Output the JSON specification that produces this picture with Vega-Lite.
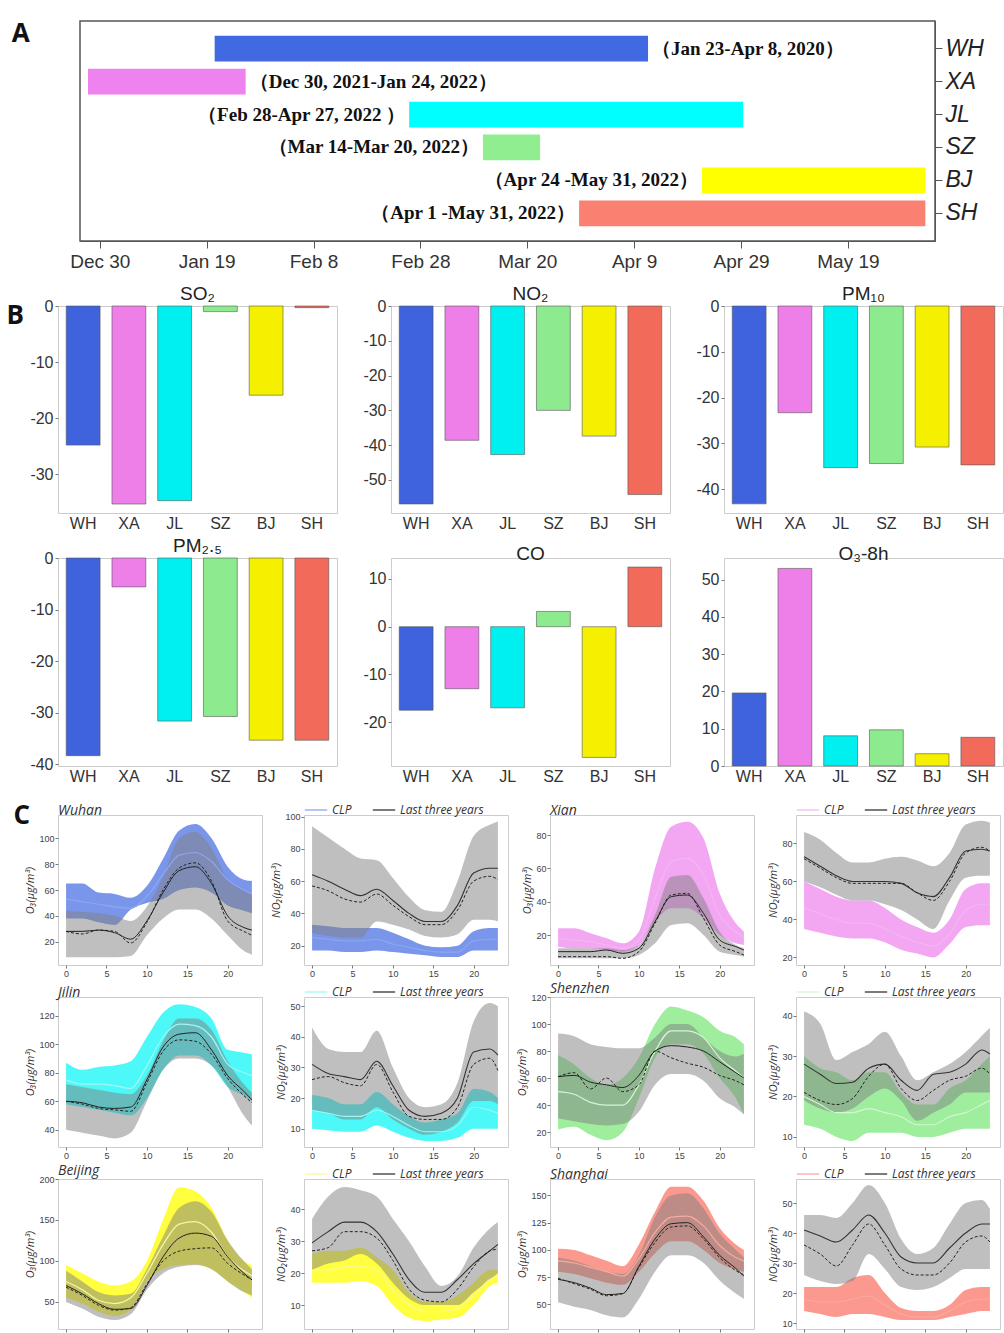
{
"$schema":"https://vega.github.io/schema/vega-lite/v6.json",
"background":"white",
"padding":{"left":6,"top":20,"right":0,"bottom":0},
"datasets":{
"gantt":[
{"city":"WH","start":21.5,"end":102.6,"label":"（Jan 23-Apr 8, 2020）"},
{"city":"XA","start":-2.2,"end":27.3,"label":"（Dec 30, 2021-Jan 24, 2022）"},
{"city":"JL","start":57.9,"end":120.4,"label":"（Feb 28-Apr 27, 2022 ）"},
{"city":"SZ","start":71.7,"end":82.4,"label":"（Mar 14-Mar 20, 2022）"},
{"city":"BJ","start":112.7,"end":154.5,"label":"（Apr 24 -May 31, 2022）"},
{"city":"SH","start":89.7,"end":154.5,"label":"（Apr 1 -May 31, 2022）"}
],
"bars":[
{"p":"SO2","c":"WH","v":-24.8},{"p":"SO2","c":"XA","v":-35.3},{"p":"SO2","c":"JL","v":-34.7},{"p":"SO2","c":"SZ","v":-1.0},{"p":"SO2","c":"BJ","v":-15.9},{"p":"SO2","c":"SH","v":-0.3},
{"p":"NO2","c":"WH","v":-56.9},{"p":"NO2","c":"XA","v":-38.6},{"p":"NO2","c":"JL","v":-42.7},{"p":"NO2","c":"SZ","v":-30.0},{"p":"NO2","c":"BJ","v":-37.4},{"p":"NO2","c":"SH","v":-54.2},
{"p":"PM10","c":"WH","v":-43.2},{"p":"PM10","c":"XA","v":-23.3},{"p":"PM10","c":"JL","v":-35.3},{"p":"PM10","c":"SZ","v":-34.4},{"p":"PM10","c":"BJ","v":-30.8},{"p":"PM10","c":"SH","v":-34.7},
{"p":"PM25","c":"WH","v":-38.3},{"p":"PM25","c":"XA","v":-5.6},{"p":"PM25","c":"JL","v":-31.6},{"p":"PM25","c":"SZ","v":-30.7},{"p":"PM25","c":"BJ","v":-35.3},{"p":"PM25","c":"SH","v":-35.3},
{"p":"CO","c":"WH","v":-17.5},{"p":"CO","c":"XA","v":-13.0},{"p":"CO","c":"JL","v":-17.0},{"p":"CO","c":"SZ","v":3.2},{"p":"CO","c":"BJ","v":-27.4},{"p":"CO","c":"SH","v":12.5},
{"p":"O3","c":"WH","v":19.6},{"p":"O3","c":"XA","v":53.0},{"p":"O3","c":"JL","v":8.1},{"p":"O3","c":"SZ","v":9.7},{"p":"O3","c":"BJ","v":3.3},{"p":"O3","c":"SH","v":7.7}
],
"diurnal":[
{"c":"WH","p":"O3","h":0,"a":38,"b":65,"m":53,"l":8,"u":44,"s":28,"d":28},
{"c":"WH","p":"O3","h":2,"a":38,"b":65,"m":51,"l":8,"u":43,"s":28,"d":26},
{"c":"WH","p":"O3","h":4,"a":35,"b":58,"m":49,"l":8,"u":42,"s":29,"d":29},
{"c":"WH","p":"O3","h":6,"a":33,"b":57,"m":47,"l":8,"u":40,"s":27,"d":28},
{"c":"WH","p":"O3","h":8,"a":45,"b":54,"m":46,"l":9,"u":36,"s":22,"d":19},
{"c":"WH","p":"O3","h":10,"a":50,"b":63,"m":55,"l":25,"u":47,"s":36,"d":35},
{"c":"WH","p":"O3","h":12,"a":53,"b":84,"m":72,"l":38,"u":70,"s":58,"d":60},
{"c":"WH","p":"O3","h":14,"a":60,"b":106,"m":87,"l":45,"u":100,"s":75,"d":77},
{"c":"WH","p":"O3","h":16,"a":62,"b":111,"m":89,"l":45,"u":105,"s":78,"d":81},
{"c":"WH","p":"O3","h":18,"a":58,"b":100,"m":82,"l":38,"u":92,"s":65,"d":67},
{"c":"WH","p":"O3","h":20,"a":48,"b":78,"m":68,"l":25,"u":68,"s":40,"d":36},
{"c":"WH","p":"O3","h":22,"a":44,"b":68,"m":60,"l":13,"u":60,"s":31,"d":28},
{"c":"WH","p":"O3","h":23,"a":42,"b":67,"m":57,"l":10,"u":57,"s":29,"d":25},
{"c":"WH","p":"NO2","h":0,"a":17,"b":33,"m":25,"l":28,"u":94,"s":64,"d":57},
{"c":"WH","p":"NO2","h":2,"a":17,"b":32,"m":24,"l":26,"u":87,"s":60,"d":54},
{"c":"WH","p":"NO2","h":4,"a":16,"b":31,"m":23,"l":25,"u":80,"s":55,"d":49},
{"c":"WH","p":"NO2","h":6,"a":16,"b":31,"m":23,"l":25,"u":74,"s":51,"d":47},
{"c":"WH","p":"NO2","h":8,"a":17,"b":31,"m":24,"l":35,"u":73,"s":55,"d":52},
{"c":"WH","p":"NO2","h":10,"a":16,"b":28,"m":21,"l":33,"u":62,"s":48,"d":45},
{"c":"WH","p":"NO2","h":12,"a":15,"b":24,"m":19,"l":30,"u":50,"s":40,"d":38},
{"c":"WH","p":"NO2","h":14,"a":14,"b":20,"m":17,"l":26,"u":42,"s":35,"d":33},
{"c":"WH","p":"NO2","h":16,"a":13,"b":19,"m":16,"l":25,"u":41,"s":35,"d":33},
{"c":"WH","p":"NO2","h":18,"a":13,"b":20,"m":16,"l":27,"u":60,"s":45,"d":42},
{"c":"WH","p":"NO2","h":20,"a":17,"b":29,"m":23,"l":36,"u":88,"s":65,"d":60},
{"c":"WH","p":"NO2","h":22,"a":17,"b":31,"m":24,"l":36,"u":95,"s":68,"d":63},
{"c":"WH","p":"NO2","h":23,"a":17,"b":31,"m":24,"l":35,"u":97,"s":68,"d":61},
{"c":"XA","p":"O3","h":0,"a":13,"b":24,"m":18,"l":6,"u":12,"s":10,"d":7},
{"c":"XA","p":"O3","h":2,"a":12,"b":24,"m":17,"l":6,"u":12,"s":10,"d":7},
{"c":"XA","p":"O3","h":4,"a":12,"b":21,"m":16,"l":6,"u":12,"s":10,"d":7},
{"c":"XA","p":"O3","h":6,"a":11,"b":18,"m":14,"l":6,"u":12,"s":11,"d":7},
{"c":"XA","p":"O3","h":8,"a":10,"b":15,"m":12,"l":6,"u":11,"s":9,"d":6},
{"c":"XA","p":"O3","h":10,"a":14,"b":22,"m":17,"l":8,"u":14,"s":12,"d":10},
{"c":"XA","p":"O3","h":12,"a":28,"b":60,"m":42,"l":15,"u":32,"s":28,"d":27},
{"c":"XA","p":"O3","h":14,"a":36,"b":85,"m":64,"l":26,"u":55,"s":43,"d":44},
{"c":"XA","p":"O3","h":16,"a":36,"b":88,"m":66,"l":27,"u":56,"s":44,"d":45},
{"c":"XA","p":"O3","h":18,"a":30,"b":78,"m":56,"l":20,"u":42,"s":33,"d":30},
{"c":"XA","p":"O3","h":20,"a":20,"b":45,"m":32,"l":10,"u":22,"s":17,"d":14},
{"c":"XA","p":"O3","h":22,"a":15,"b":27,"m":22,"l":8,"u":14,"s":13,"d":10},
{"c":"XA","p":"O3","h":23,"a":14,"b":22,"m":19,"l":7,"u":12,"s":11,"d":8},
{"c":"XA","p":"NO2","h":0,"a":35,"b":60,"m":46,"l":60,"u":86,"s":73,"d":72},
{"c":"XA","p":"NO2","h":2,"a":33,"b":56,"m":43,"l":57,"u":82,"s":68,"d":67},
{"c":"XA","p":"NO2","h":4,"a":31,"b":52,"m":40,"l":53,"u":75,"s":63,"d":62},
{"c":"XA","p":"NO2","h":6,"a":30,"b":50,"m":38,"l":50,"u":70,"s":60,"d":59},
{"c":"XA","p":"NO2","h":8,"a":30,"b":50,"m":38,"l":50,"u":70,"s":60,"d":59},
{"c":"XA","p":"NO2","h":10,"a":28,"b":46,"m":35,"l":48,"u":72,"s":60,"d":59},
{"c":"XA","p":"NO2","h":12,"a":24,"b":40,"m":31,"l":45,"u":73,"s":59,"d":59},
{"c":"XA","p":"NO2","h":14,"a":22,"b":36,"m":28,"l":40,"u":71,"s":54,"d":54},
{"c":"XA","p":"NO2","h":16,"a":20,"b":33,"m":26,"l":35,"u":68,"s":52,"d":50},
{"c":"XA","p":"NO2","h":18,"a":27,"b":40,"m":32,"l":50,"u":75,"s":62,"d":60},
{"c":"XA","p":"NO2","h":20,"a":36,"b":56,"m":45,"l":62,"u":90,"s":76,"d":75},
{"c":"XA","p":"NO2","h":22,"a":37,"b":59,"m":48,"l":63,"u":92,"s":77,"d":78},
{"c":"XA","p":"NO2","h":23,"a":37,"b":59,"m":48,"l":63,"u":91,"s":76,"d":76},
{"c":"JL","p":"O3","h":0,"a":58,"b":87,"m":75,"l":40,"u":72,"s":60,"d":60},
{"c":"JL","p":"O3","h":2,"a":56,"b":82,"m":72,"l":38,"u":70,"s":59,"d":58},
{"c":"JL","p":"O3","h":4,"a":54,"b":84,"m":72,"l":36,"u":68,"s":56,"d":55},
{"c":"JL","p":"O3","h":6,"a":52,"b":85,"m":71,"l":34,"u":66,"s":55,"d":54},
{"c":"JL","p":"O3","h":8,"a":50,"b":88,"m":69,"l":38,"u":65,"s":56,"d":53},
{"c":"JL","p":"O3","h":10,"a":62,"b":105,"m":85,"l":60,"u":78,"s":75,"d":73},
{"c":"JL","p":"O3","h":12,"a":82,"b":122,"m":105,"l":82,"u":102,"s":98,"d":95},
{"c":"JL","p":"O3","h":14,"a":92,"b":128,"m":114,"l":90,"u":118,"s":107,"d":103},
{"c":"JL","p":"O3","h":16,"a":92,"b":126,"m":113,"l":90,"u":118,"s":108,"d":102},
{"c":"JL","p":"O3","h":18,"a":85,"b":118,"m":105,"l":85,"u":110,"s":96,"d":93},
{"c":"JL","p":"O3","h":20,"a":70,"b":96,"m":86,"l":70,"u":88,"s":78,"d":76},
{"c":"JL","p":"O3","h":22,"a":64,"b":94,"m":80,"l":50,"u":72,"s":67,"d":64},
{"c":"JL","p":"O3","h":23,"a":60,"b":93,"m":78,"l":43,"u":66,"s":61,"d":59},
{"c":"JL","p":"NO2","h":0,"a":10,"b":21,"m":16,"l":16,"u":43,"s":31,"d":26},
{"c":"JL","p":"NO2","h":2,"a":9.5,"b":20,"m":15,"l":15,"u":36,"s":28,"d":27},
{"c":"JL","p":"NO2","h":4,"a":9,"b":18,"m":14,"l":13,"u":35,"s":27,"d":25},
{"c":"JL","p":"NO2","h":6,"a":9,"b":18,"m":14,"l":13,"u":35,"s":26,"d":24},
{"c":"JL","p":"NO2","h":8,"a":11,"b":22,"m":16,"l":17,"u":42,"s":32,"d":31},
{"c":"JL","p":"NO2","h":10,"a":9,"b":18,"m":14,"l":13,"u":30,"s":24,"d":22},
{"c":"JL","p":"NO2","h":12,"a":7,"b":14,"m":11,"l":10,"u":20,"s":16,"d":14},
{"c":"JL","p":"NO2","h":14,"a":6,"b":12,"m":9,"l":8,"u":17,"s":14,"d":13},
{"c":"JL","p":"NO2","h":16,"a":6,"b":13,"m":9,"l":9,"u":18,"s":15,"d":13},
{"c":"JL","p":"NO2","h":18,"a":7,"b":15,"m":11,"l":12,"u":25,"s":20,"d":17},
{"c":"JL","p":"NO2","h":20,"a":10,"b":23,"m":17,"l":19,"u":45,"s":35,"d":31},
{"c":"JL","p":"NO2","h":22,"a":10,"b":22,"m":16,"l":19,"u":51,"s":36,"d":33},
{"c":"JL","p":"NO2","h":23,"a":10,"b":20,"m":15,"l":18,"u":50,"s":34,"d":29},
{"c":"SZ","p":"O3","h":0,"a":22,"b":77,"m":50,"l":30,"u":93,"s":61,"d":61},
{"c":"SZ","p":"O3","h":2,"a":24,"b":70,"m":48,"l":28,"u":91,"s":62,"d":64},
{"c":"SZ","p":"O3","h":4,"a":18,"b":60,"m":42,"l":26,"u":85,"s":57,"d":52},
{"c":"SZ","p":"O3","h":6,"a":14,"b":55,"m":40,"l":25,"u":83,"s":55,"d":60},
{"c":"SZ","p":"O3","h":8,"a":20,"b":60,"m":40,"l":26,"u":82,"s":53,"d":50},
{"c":"SZ","p":"O3","h":10,"a":45,"b":75,"m":55,"l":35,"u":82,"s":62,"d":55},
{"c":"SZ","p":"O3","h":12,"a":75,"b":100,"m":80,"l":55,"u":90,"s":80,"d":80},
{"c":"SZ","p":"O3","h":14,"a":85,"b":113,"m":95,"l":63,"u":100,"s":84,"d":75},
{"c":"SZ","p":"O3","h":16,"a":85,"b":110,"m":95,"l":63,"u":100,"s":83,"d":71},
{"c":"SZ","p":"O3","h":18,"a":78,"b":105,"m":90,"l":58,"u":90,"s":80,"d":68},
{"c":"SZ","p":"O3","h":20,"a":60,"b":95,"m":75,"l":45,"u":80,"s":72,"d":62},
{"c":"SZ","p":"O3","h":22,"a":45,"b":90,"m":65,"l":38,"u":76,"s":64,"d":58},
{"c":"SZ","p":"O3","h":23,"a":33,"b":85,"m":60,"l":33,"u":78,"s":60,"d":55},
{"c":"SZ","p":"NO2","h":0,"a":13,"b":30,"m":20,"l":19,"u":41,"s":28,"d":21},
{"c":"SZ","p":"NO2","h":2,"a":12,"b":27,"m":18,"l":17,"u":38,"s":25.5,"d":19},
{"c":"SZ","p":"NO2","h":4,"a":10,"b":26,"m":16,"l":16,"u":29,"s":23.2,"d":18},
{"c":"SZ","p":"NO2","h":6,"a":9,"b":24,"m":16,"l":17,"u":31,"s":23.5,"d":19.5},
{"c":"SZ","p":"NO2","h":8,"a":11,"b":26,"m":17,"l":20,"u":33,"s":27,"d":25},
{"c":"SZ","p":"NO2","h":10,"a":11,"b":26,"m":16,"l":22,"u":36,"s":28,"d":28},
{"c":"SZ","p":"NO2","h":12,"a":11,"b":21,"m":15,"l":19,"u":30,"s":24,"d":22},
{"c":"SZ","p":"NO2","h":14,"a":10,"b":18,"m":13,"l":14,"u":24,"s":21.5,"d":19},
{"c":"SZ","p":"NO2","h":16,"a":10,"b":18,"m":13,"l":16,"u":26,"s":25.5,"d":21.5},
{"c":"SZ","p":"NO2","h":18,"a":11,"b":22,"m":15,"l":18,"u":28,"s":26,"d":24},
{"c":"SZ","p":"NO2","h":20,"a":12,"b":24,"m":16,"l":21,"u":31,"s":28,"d":25},
{"c":"SZ","p":"NO2","h":22,"a":12,"b":28,"m":18,"l":21,"u":35,"s":31.5,"d":27},
{"c":"SZ","p":"NO2","h":23,"a":12,"b":30,"m":19,"l":21,"u":37,"s":30.5,"d":25.5},
{"c":"BJ","p":"O3","h":0,"a":55,"b":95,"m":75,"l":50,"u":88,"s":70,"d":68},
{"c":"BJ","p":"O3","h":2,"a":48,"b":85,"m":65,"l":42,"u":75,"s":60,"d":58},
{"c":"BJ","p":"O3","h":4,"a":38,"b":75,"m":52,"l":32,"u":62,"s":48,"d":46},
{"c":"BJ","p":"O3","h":6,"a":33,"b":70,"m":48,"l":28,"u":58,"s":41,"d":40},
{"c":"BJ","p":"O3","h":8,"a":40,"b":75,"m":55,"l":35,"u":60,"s":42,"d":43},
{"c":"BJ","p":"O3","h":10,"a":75,"b":100,"m":85,"l":65,"u":90,"s":70,"d":72},
{"c":"BJ","p":"O3","h":12,"a":90,"b":150,"m":120,"l":85,"u":130,"s":105,"d":100},
{"c":"BJ","p":"O3","h":14,"a":95,"b":190,"m":145,"l":93,"u":165,"s":128,"d":112},
{"c":"BJ","p":"O3","h":16,"a":96,"b":185,"m":148,"l":95,"u":173,"s":134,"d":115},
{"c":"BJ","p":"O3","h":18,"a":90,"b":165,"m":135,"l":90,"u":160,"s":130,"d":116},
{"c":"BJ","p":"O3","h":20,"a":75,"b":125,"m":105,"l":75,"u":125,"s":105,"d":97},
{"c":"BJ","p":"O3","h":22,"a":62,"b":100,"m":88,"l":62,"u":100,"s":85,"d":83},
{"c":"BJ","p":"O3","h":23,"a":55,"b":95,"m":82,"l":58,"u":90,"s":77,"d":77},
{"c":"BJ","p":"NO2","h":0,"a":17,"b":26,"m":21,"l":21,"u":37,"s":29.5,"d":27},
{"c":"BJ","p":"NO2","h":2,"a":17,"b":27,"m":21,"l":23,"u":44,"s":33,"d":28},
{"c":"BJ","p":"NO2","h":4,"a":17,"b":27,"m":22,"l":24,"u":47,"s":36,"d":33},
{"c":"BJ","p":"NO2","h":6,"a":17.5,"b":28,"m":22,"l":26,"u":46,"s":36,"d":33},
{"c":"BJ","p":"NO2","h":8,"a":16,"b":25,"m":21,"l":23,"u":44,"s":33,"d":31},
{"c":"BJ","p":"NO2","h":10,"a":10,"b":21,"m":15,"l":17,"u":37,"s":26,"d":24},
{"c":"BJ","p":"NO2","h":12,"a":6,"b":14,"m":10,"l":12,"u":30,"s":18,"d":15},
{"c":"BJ","p":"NO2","h":14,"a":5,"b":11,"m":8,"l":10,"u":22,"s":14,"d":11.5},
{"c":"BJ","p":"NO2","h":16,"a":5.5,"b":11,"m":8,"l":10,"u":16,"s":14,"d":11},
{"c":"BJ","p":"NO2","h":18,"a":6,"b":13,"m":9,"l":10,"u":19,"s":18,"d":15},
{"c":"BJ","p":"NO2","h":20,"a":10,"b":17,"m":13,"l":14,"u":28,"s":23,"d":22},
{"c":"BJ","p":"NO2","h":22,"a":16,"b":21,"m":18,"l":18,"u":34,"s":27,"d":27},
{"c":"BJ","p":"NO2","h":23,"a":17,"b":21,"m":19,"l":20,"u":36,"s":29,"d":27.5},
{"c":"SH","p":"O3","h":0,"a":80,"b":101,"m":90,"l":52,"u":93,"s":73,"d":74},
{"c":"SH","p":"O3","h":2,"a":78,"b":100,"m":88,"l":48,"u":90,"s":70,"d":69},
{"c":"SH","p":"O3","h":4,"a":74,"b":95,"m":84,"l":45,"u":85,"s":65,"d":64},
{"c":"SH","p":"O3","h":6,"a":70,"b":90,"m":80,"l":40,"u":80,"s":59,"d":58},
{"c":"SH","p":"O3","h":8,"a":68,"b":85,"m":76,"l":38,"u":78,"s":60,"d":60},
{"c":"SH","p":"O3","h":10,"a":80,"b":105,"m":92,"l":55,"u":95,"s":85,"d":84},
{"c":"SH","p":"O3","h":12,"a":97,"b":135,"m":116,"l":80,"u":130,"s":110,"d":107},
{"c":"SH","p":"O3","h":14,"a":108,"b":158,"m":130,"l":95,"u":150,"s":124,"d":121},
{"c":"SH","p":"O3","h":16,"a":108,"b":158,"m":131,"l":95,"u":152,"s":125,"d":122},
{"c":"SH","p":"O3","h":18,"a":100,"b":145,"m":122,"l":88,"u":138,"s":112,"d":110},
{"c":"SH","p":"O3","h":20,"a":88,"b":120,"m":104,"l":72,"u":115,"s":95,"d":93},
{"c":"SH","p":"O3","h":22,"a":82,"b":105,"m":93,"l":60,"u":100,"s":83,"d":81},
{"c":"SH","p":"O3","h":23,"a":80,"b":100,"m":90,"l":55,"u":93,"s":76,"d":77},
{"c":"SH","p":"NO2","h":0,"a":14,"b":22,"m":18,"l":26,"u":46,"s":41,"d":36},
{"c":"SH","p":"NO2","h":2,"a":13,"b":22,"m":17,"l":24,"u":46,"s":39,"d":33},
{"c":"SH","p":"NO2","h":4,"a":12,"b":22,"m":17,"l":23,"u":45,"s":37,"d":29},
{"c":"SH","p":"NO2","h":6,"a":13,"b":25,"m":18,"l":24,"u":50,"s":41,"d":36},
{"c":"SH","p":"NO2","h":8,"a":13,"b":26,"m":19,"l":33,"u":56,"s":46,"d":43},
{"c":"SH","p":"NO2","h":10,"a":12,"b":20,"m":16,"l":28,"u":50,"s":40,"d":36},
{"c":"SH","p":"NO2","h":12,"a":11,"b":15,"m":13,"l":22,"u":38,"s":32,"d":28},
{"c":"SH","p":"NO2","h":14,"a":11,"b":14,"m":12,"l":21,"u":33,"s":30,"d":26},
{"c":"SH","p":"NO2","h":16,"a":11,"b":14,"m":12,"l":22,"u":35,"s":30,"d":26},
{"c":"SH","p":"NO2","h":18,"a":12,"b":16,"m":14,"l":25,"u":43,"s":35,"d":30},
{"c":"SH","p":"NO2","h":20,"a":13,"b":21,"m":17,"l":28,"u":50,"s":40,"d":37},
{"c":"SH","p":"NO2","h":22,"a":14,"b":22,"m":18,"l":28,"u":51,"s":43,"d":39},
{"c":"SH","p":"NO2","h":23,"a":14,"b":22,"m":18,"l":28,"u":48,"s":43,"d":37}
]
},
"spacing":12,
"resolve":{"scale":{"color":"independent"},"legend":{"color":"independent"}},
"vconcat":[
{"bounds":"flush","spacing":21,
"resolve":{"scale":{"color":"independent"},"legend":{"color":"independent"}},
"hconcat":[
{"width":1,"height":220,"data":{"values":[]},"mark":"point","view":{"stroke":null}},
{
"width":855,"height":220,
"title":{"text":"A","orient":"left","anchor":"end","angle":0,"align":"left","baseline":"top","offset":40,"font":"Open Sans","fontSize":26,"fontWeight":"bold","color":"#111"},
"data":{"name":"gantt"},
"view":{"stroke":"#555","strokeWidth":1.5},
"encoding":{
"y":{"field":"city","type":"nominal","sort":["WH","XA","JL","SZ","BJ","SH"],"scale":{"paddingInner":0.22,"paddingOuter":0.45},"axis":{"orient":"right","title":null,"labelFont":"Liberation Sans","labelFontSize":23,"labelFontStyle":"italic","labelColor":"#222","tickSize":7,"tickColor":"#555","domain":true,"domainColor":"#555","labelPadding":3}}
},
"layer":[
{"mark":{"type":"bar"},
"encoding":{
"x":{"field":"start","type":"quantitative","scale":{"domain":[-3.7,156.3],"nice":false,"zero":false},"axis":{"title":null,"values":[0,20,40,60,80,100,120,140],"labelExpr":"['Dec 30','Jan 19','Feb 8','Feb 28','Mar 20','Apr 9','Apr 29','May 19'][round(datum.value/20)]","labelFont":"Liberation Sans","labelFontSize":19,"labelColor":"#333","tickSize":7,"tickColor":"#555","domain":true,"domainColor":"#555","labelPadding":4}},
"x2":{"field":"end"},
"color":{"field":"city","type":"nominal","scale":{"domain":["WH","XA","JL","SZ","BJ","SH"],"range":["#4169e1","#ee82ee","#00ffff","#90ee90","#ffff00","#fa8072"]},"legend":null}
}},
{"transform":[{"filter":"datum.city==='WH'||datum.city==='XA'"}],
"mark":{"type":"text","align":"left","dx":4,"font":"Liberation Serif","fontWeight":"bold","fontSize":19,"color":"#111"},
"encoding":{"x":{"field":"end","type":"quantitative"},"text":{"field":"label"}}},
{"transform":[{"filter":"datum.city!=='WH'&&datum.city!=='XA'"}],
"mark":{"type":"text","align":"right","dx":-4,"font":"Liberation Serif","fontWeight":"bold","fontSize":19,"color":"#111"},
"encoding":{"x":{"field":"start","type":"quantitative"},"text":{"field":"label"}}}
]
}
]},
{
"title":{"text":"B","orient":"top","anchor":"start","frame":"bounds","align":"left","baseline":"alphabetic","offset":-65,"dx":-23,"font":"Open Sans","fontSize":26,"fontWeight":"bold","color":"#111"},
"spacing":4,
"resolve":{"scale":{"color":"independent"},"legend":{"color":"independent"}},
"vconcat":[
{"bounds":"flush","spacing":54,
"resolve":{"scale":{"color":"independent"},"legend":{"color":"independent"}},
"hconcat":[
{"width":279,"height":207,"title":{"text":"SO₂","font":"Liberation Sans","fontSize":19,"fontWeight":"normal","color":"#222","offset":-6},
"data":{"name":"bars"},"transform":[{"filter":"datum.p==='SO2'"}],
"mark":{"type":"bar","stroke":"#555","strokeWidth":0.6},
"encoding":{"x":{"field":"c","type":"nominal","sort":["WH","XA","JL","SZ","BJ","SH"],"scale":{"paddingInner":0.26,"paddingOuter":0.18},"axis":{"title":null,"labelAngle":0,"labelFont":"Liberation Sans","labelFontSize":16,"labelColor":"#333","ticks":false,"labelPadding":2}},
"y":{"field":"v","type":"quantitative","scale":{"domain":[-36.9,0],"nice":false},"axis":{"title":null,"values":[0,-10,-20,-30],"labelExpr":"''+datum.value","labelFont":"Liberation Sans","labelFontSize":16,"labelColor":"#333","tickSize":3,"labelPadding":2}},
"color":{"field":"c","type":"nominal","scale":{"domain":["WH","XA","JL","SZ","BJ","SH"],"range":["#3f63dd","#ee7ee8","#00f0f0","#8eea8e","#f5f000","#f26a5a"]},"legend":null}}},
{"width":279,"height":207,"title":{"text":"NO₂","font":"Liberation Sans","fontSize":19,"fontWeight":"normal","color":"#222","offset":-6},
"data":{"name":"bars"},"transform":[{"filter":"datum.p==='NO2'"}],
"mark":{"type":"bar","stroke":"#555","strokeWidth":0.6},
"encoding":{"x":{"field":"c","type":"nominal","sort":["WH","XA","JL","SZ","BJ","SH"],"scale":{"paddingInner":0.26,"paddingOuter":0.18},"axis":{"title":null,"labelAngle":0,"labelFont":"Liberation Sans","labelFontSize":16,"labelColor":"#333","ticks":false,"labelPadding":2}},
"y":{"field":"v","type":"quantitative","scale":{"domain":[-59.5,0],"nice":false},"axis":{"title":null,"values":[0,-10,-20,-30,-40,-50],"labelExpr":"''+datum.value","labelFont":"Liberation Sans","labelFontSize":16,"labelColor":"#333","tickSize":3,"labelPadding":2}},
"color":{"field":"c","type":"nominal","scale":{"domain":["WH","XA","JL","SZ","BJ","SH"],"range":["#3f63dd","#ee7ee8","#00f0f0","#8eea8e","#f5f000","#f26a5a"]},"legend":null}}},
{"width":279,"height":207,"title":{"text":"PM₁₀","font":"Liberation Sans","fontSize":19,"fontWeight":"normal","color":"#222","offset":-6},
"data":{"name":"bars"},"transform":[{"filter":"datum.p==='PM10'"}],
"mark":{"type":"bar","stroke":"#555","strokeWidth":0.6},
"encoding":{"x":{"field":"c","type":"nominal","sort":["WH","XA","JL","SZ","BJ","SH"],"scale":{"paddingInner":0.26,"paddingOuter":0.18},"axis":{"title":null,"labelAngle":0,"labelFont":"Liberation Sans","labelFontSize":16,"labelColor":"#333","ticks":false,"labelPadding":2}},
"y":{"field":"v","type":"quantitative","scale":{"domain":[-45.2,0],"nice":false},"axis":{"title":null,"values":[0,-10,-20,-30,-40],"labelExpr":"''+datum.value","labelFont":"Liberation Sans","labelFontSize":16,"labelColor":"#333","tickSize":3,"labelPadding":2}},
"color":{"field":"c","type":"nominal","scale":{"domain":["WH","XA","JL","SZ","BJ","SH"],"range":["#3f63dd","#ee7ee8","#00f0f0","#8eea8e","#f5f000","#f26a5a"]},"legend":null}}}
]},
{"bounds":"flush","spacing":54,
"resolve":{"scale":{"color":"independent"},"legend":{"color":"independent"}},
"hconcat":[
{"width":279,"height":208,"title":{"text":"PM₂.₅","font":"Liberation Sans","fontSize":19,"fontWeight":"normal","color":"#222","offset":-6},
"data":{"name":"bars"},"transform":[{"filter":"datum.p==='PM25'"}],
"mark":{"type":"bar","stroke":"#555","strokeWidth":0.6},
"encoding":{"x":{"field":"c","type":"nominal","sort":["WH","XA","JL","SZ","BJ","SH"],"scale":{"paddingInner":0.26,"paddingOuter":0.18},"axis":{"title":null,"labelAngle":0,"labelFont":"Liberation Sans","labelFontSize":16,"labelColor":"#333","ticks":false,"labelPadding":2}},
"y":{"field":"v","type":"quantitative","scale":{"domain":[-40.3,0],"nice":false},"axis":{"title":null,"values":[0,-10,-20,-30,-40],"labelExpr":"''+datum.value","labelFont":"Liberation Sans","labelFontSize":16,"labelColor":"#333","tickSize":3,"labelPadding":2}},
"color":{"field":"c","type":"nominal","scale":{"domain":["WH","XA","JL","SZ","BJ","SH"],"range":["#3f63dd","#ee7ee8","#00f0f0","#8eea8e","#f5f000","#f26a5a"]},"legend":null}}},
{"width":279,"height":208,"title":{"text":"CO","font":"Liberation Sans","fontSize":19,"fontWeight":"normal","color":"#222","offset":-6},
"data":{"name":"bars"},"transform":[{"filter":"datum.p==='CO'"}],
"mark":{"type":"bar","stroke":"#555","strokeWidth":0.6},
"encoding":{"x":{"field":"c","type":"nominal","sort":["WH","XA","JL","SZ","BJ","SH"],"scale":{"paddingInner":0.26,"paddingOuter":0.18},"axis":{"title":null,"labelAngle":0,"labelFont":"Liberation Sans","labelFontSize":16,"labelColor":"#333","ticks":false,"labelPadding":2}},
"y":{"field":"v","type":"quantitative","scale":{"domain":[-29.2,14.4],"nice":false},"axis":{"title":null,"values":[10,0,-10,-20],"labelExpr":"''+datum.value","labelFont":"Liberation Sans","labelFontSize":16,"labelColor":"#333","tickSize":3,"labelPadding":2}},
"color":{"field":"c","type":"nominal","scale":{"domain":["WH","XA","JL","SZ","BJ","SH"],"range":["#3f63dd","#ee7ee8","#00f0f0","#8eea8e","#f5f000","#f26a5a"]},"legend":null}}},
{"width":279,"height":208,"title":{"text":"O₃-8h","font":"Liberation Sans","fontSize":19,"fontWeight":"normal","color":"#222","offset":-6},
"data":{"name":"bars"},"transform":[{"filter":"datum.p==='O3'"}],
"mark":{"type":"bar","stroke":"#555","strokeWidth":0.6},
"encoding":{"x":{"field":"c","type":"nominal","sort":["WH","XA","JL","SZ","BJ","SH"],"scale":{"paddingInner":0.26,"paddingOuter":0.18},"axis":{"title":null,"labelAngle":0,"labelFont":"Liberation Sans","labelFontSize":16,"labelColor":"#333","ticks":false,"labelPadding":2}},
"y":{"field":"v","type":"quantitative","scale":{"domain":[0,55.8],"nice":false},"axis":{"title":null,"values":[0,10,20,30,40,50],"labelExpr":"''+datum.value","labelFont":"Liberation Sans","labelFontSize":16,"labelColor":"#333","tickSize":3,"labelPadding":2}},
"color":{"field":"c","type":"nominal","scale":{"domain":["WH","XA","JL","SZ","BJ","SH"],"range":["#3f63dd","#ee7ee8","#00f0f0","#8eea8e","#f5f000","#f26a5a"]},"legend":null}}}
]}
]
},
{
"title":{"text":"C","orient":"top","anchor":"start","frame":"bounds","align":"left","baseline":"alphabetic","offset":-52,"dx":-11,"font":"Open Sans","fontSize":26,"fontWeight":"bold","color":"#111"},
"spacing":0,
"resolve":{"scale":{"color":"independent"},"legend":{"color":"independent"}},
"vconcat":[
{"bounds":"flush","spacing":42,
"resolve":{"scale":{"color":"independent"},"legend":{"color":"independent"}},
"hconcat":[
{"width":204,"height":150,"title":{"text":"Wuhan","anchor":"start","frame":"group","font":"Open Sans","fontStyle":"italic","fontWeight":"normal","fontSize":14,"color":"#333","offset":-3},
"data":{"name":"diurnal"},"transform":[{"filter":"datum.c==='WH'&&datum.p==='O3'"}],
"encoding":{"x":{"field":"h","type":"quantitative","scale":{"domain":[-1,24.25],"nice":false,"zero":false},"axis":{"values":[0,5,10,15,20],"title":null}}},
"layer":[
{"mark":{"type":"area","color":"#4169e1","opacity":0.7,"interpolate":"monotone","clip":true},"encoding":{"y":{"field":"a","type":"quantitative","scale":{"domain":[2,118],"nice":false,"zero":false},"axis":{"title":"O₃(μg/m³)","values":[20,40,60,80,100]}},"y2":{"field":"b"}}},
{"mark":{"type":"area","color":"#7f7f7f","opacity":0.5,"interpolate":"monotone","clip":true},"encoding":{"y":{"field":"l","type":"quantitative","scale":{"domain":[2,118],"nice":false,"zero":false},"axis":{"title":"O₃(μg/m³)","values":[20,40,60,80,100]}},"y2":{"field":"u"}}},
{"mark":{"type":"line","color":"#8ea6f2","strokeWidth":1.2,"interpolate":"monotone","clip":true},"encoding":{"y":{"field":"m","type":"quantitative","scale":{"domain":[2,118],"nice":false,"zero":false},"axis":{"title":"O₃(μg/m³)","values":[20,40,60,80,100]}}}},
{"mark":{"type":"line","color":"#222","strokeWidth":1,"interpolate":"monotone","clip":true},"encoding":{"y":{"field":"s","type":"quantitative","scale":{"domain":[2,118],"nice":false,"zero":false},"axis":{"title":"O₃(μg/m³)","values":[20,40,60,80,100]}}}},
{"mark":{"type":"line","color":"#222","strokeWidth":1,"strokeDash":[3,2],"interpolate":"monotone","clip":true},"encoding":{"y":{"field":"d","type":"quantitative","scale":{"domain":[2,118],"nice":false,"zero":false},"axis":{"title":"O₃(μg/m³)","values":[20,40,60,80,100]}}}}
]},
{"width":204,"height":150,
"data":{"name":"diurnal"},"transform":[{"filter":"datum.c==='WH'&&datum.p==='NO2'"}],
"encoding":{"x":{"field":"h","type":"quantitative","scale":{"domain":[-1,24.25],"nice":false,"zero":false},"axis":{"values":[0,5,10,15,20],"title":null}}},
"layer":[
{"mark":{"type":"area","color":"#4169e1","opacity":0.7,"interpolate":"monotone","clip":true},"encoding":{"y":{"field":"a","type":"quantitative","scale":{"domain":[8,101],"nice":false,"zero":false},"axis":{"title":"NO₂(μg/m³)","values":[20,40,60,80,100]}},"y2":{"field":"b"}}},
{"mark":{"type":"area","color":"#7f7f7f","opacity":0.5,"interpolate":"monotone","clip":true},"encoding":{"y":{"field":"l","type":"quantitative","scale":{"domain":[8,101],"nice":false,"zero":false},"axis":{"title":"NO₂(μg/m³)","values":[20,40,60,80,100]}},"y2":{"field":"u"}}},
{"transform":[{"fold":["m","s"],"as":["series","val"]}],"mark":{"type":"line","strokeWidth":1.1,"interpolate":"monotone","clip":true},"encoding":{"y":{"field":"val","type":"quantitative","scale":{"domain":[8,101],"nice":false,"zero":false},"axis":{"title":"NO₂(μg/m³)","values":[20,40,60,80,100]}},"color":{"field":"series","type":"nominal","scale":{"domain":["m","s"],"range":["#8ea6f2","#333333"]},"legend":{"orient":"top","title":null,"direction":"horizontal","symbolType":"stroke","symbolSize":500,"symbolStrokeWidth":1.3,"labelExpr":"datum.value==='m'?'CLP':'Last three years'","columnPadding":18,"offset":-1,"padding":0}}}},
{"mark":{"type":"line","color":"#222","strokeWidth":1,"strokeDash":[3,2],"interpolate":"monotone","clip":true},"encoding":{"y":{"field":"d","type":"quantitative","scale":{"domain":[8,101],"nice":false,"zero":false},"axis":{"title":"NO₂(μg/m³)","values":[20,40,60,80,100]}}}}
]},
{"width":204,"height":150,"title":{"text":"Xian","anchor":"start","frame":"group","font":"Open Sans","fontStyle":"italic","fontWeight":"normal","fontSize":14,"color":"#333","offset":-3},
"data":{"name":"diurnal"},"transform":[{"filter":"datum.c==='XA'&&datum.p==='O3'"}],
"encoding":{"x":{"field":"h","type":"quantitative","scale":{"domain":[-1,24.25],"nice":false,"zero":false},"axis":{"values":[0,5,10,15,20],"title":null}}},
"layer":[
{"mark":{"type":"area","color":"#ee82ee","opacity":0.7,"interpolate":"monotone","clip":true},"encoding":{"y":{"field":"a","type":"quantitative","scale":{"domain":[2,92],"nice":false,"zero":false},"axis":{"title":"O₃(μg/m³)","values":[20,40,60,80]}},"y2":{"field":"b"}}},
{"mark":{"type":"area","color":"#7f7f7f","opacity":0.5,"interpolate":"monotone","clip":true},"encoding":{"y":{"field":"l","type":"quantitative","scale":{"domain":[2,92],"nice":false,"zero":false},"axis":{"title":"O₃(μg/m³)","values":[20,40,60,80]}},"y2":{"field":"u"}}},
{"mark":{"type":"line","color":"#f2b6f2","strokeWidth":1.2,"interpolate":"monotone","clip":true},"encoding":{"y":{"field":"m","type":"quantitative","scale":{"domain":[2,92],"nice":false,"zero":false},"axis":{"title":"O₃(μg/m³)","values":[20,40,60,80]}}}},
{"mark":{"type":"line","color":"#222","strokeWidth":1,"interpolate":"monotone","clip":true},"encoding":{"y":{"field":"s","type":"quantitative","scale":{"domain":[2,92],"nice":false,"zero":false},"axis":{"title":"O₃(μg/m³)","values":[20,40,60,80]}}}},
{"mark":{"type":"line","color":"#222","strokeWidth":1,"strokeDash":[3,2],"interpolate":"monotone","clip":true},"encoding":{"y":{"field":"d","type":"quantitative","scale":{"domain":[2,92],"nice":false,"zero":false},"axis":{"title":"O₃(μg/m³)","values":[20,40,60,80]}}}}
]},
{"width":204,"height":150,
"data":{"name":"diurnal"},"transform":[{"filter":"datum.c==='XA'&&datum.p==='NO2'"}],
"encoding":{"x":{"field":"h","type":"quantitative","scale":{"domain":[-1,24.25],"nice":false,"zero":false},"axis":{"values":[0,5,10,15,20],"title":null}}},
"layer":[
{"mark":{"type":"area","color":"#ee82ee","opacity":0.7,"interpolate":"monotone","clip":true},"encoding":{"y":{"field":"a","type":"quantitative","scale":{"domain":[16,95],"nice":false,"zero":false},"axis":{"title":"NO₂(μg/m³)","values":[20,40,60,80]}},"y2":{"field":"b"}}},
{"mark":{"type":"area","color":"#7f7f7f","opacity":0.5,"interpolate":"monotone","clip":true},"encoding":{"y":{"field":"l","type":"quantitative","scale":{"domain":[16,95],"nice":false,"zero":false},"axis":{"title":"NO₂(μg/m³)","values":[20,40,60,80]}},"y2":{"field":"u"}}},
{"transform":[{"fold":["m","s"],"as":["series","val"]}],"mark":{"type":"line","strokeWidth":1.1,"interpolate":"monotone","clip":true},"encoding":{"y":{"field":"val","type":"quantitative","scale":{"domain":[16,95],"nice":false,"zero":false},"axis":{"title":"NO₂(μg/m³)","values":[20,40,60,80]}},"color":{"field":"series","type":"nominal","scale":{"domain":["m","s"],"range":["#f2b6f2","#333333"]},"legend":{"orient":"top","title":null,"direction":"horizontal","symbolType":"stroke","symbolSize":500,"symbolStrokeWidth":1.3,"labelExpr":"datum.value==='m'?'CLP':'Last three years'","columnPadding":18,"offset":-1,"padding":0}}}},
{"mark":{"type":"line","color":"#222","strokeWidth":1,"strokeDash":[3,2],"interpolate":"monotone","clip":true},"encoding":{"y":{"field":"d","type":"quantitative","scale":{"domain":[16,95],"nice":false,"zero":false},"axis":{"title":"NO₂(μg/m³)","values":[20,40,60,80]}}}}
]}
]},
{"bounds":"flush","spacing":42,
"resolve":{"scale":{"color":"independent"},"legend":{"color":"independent"}},
"hconcat":[
{"width":204,"height":150,"title":{"text":"Jilin","anchor":"start","frame":"group","font":"Open Sans","fontStyle":"italic","fontWeight":"normal","fontSize":14,"color":"#333","offset":-3},
"data":{"name":"diurnal"},"transform":[{"filter":"datum.c==='JL'&&datum.p==='O3'"}],
"encoding":{"x":{"field":"h","type":"quantitative","scale":{"domain":[-1,24.25],"nice":false,"zero":false},"axis":{"values":[0,5,10,15,20],"title":null}}},
"layer":[
{"mark":{"type":"area","color":"#00f5f5","opacity":0.7,"interpolate":"monotone","clip":true},"encoding":{"y":{"field":"a","type":"quantitative","scale":{"domain":[28,133],"nice":false,"zero":false},"axis":{"title":"O₃(μg/m³)","values":[40,60,80,100,120]}},"y2":{"field":"b"}}},
{"mark":{"type":"area","color":"#7f7f7f","opacity":0.5,"interpolate":"monotone","clip":true},"encoding":{"y":{"field":"l","type":"quantitative","scale":{"domain":[28,133],"nice":false,"zero":false},"axis":{"title":"O₃(μg/m³)","values":[40,60,80,100,120]}},"y2":{"field":"u"}}},
{"mark":{"type":"line","color":"#9ff7f4","strokeWidth":1.2,"interpolate":"monotone","clip":true},"encoding":{"y":{"field":"m","type":"quantitative","scale":{"domain":[28,133],"nice":false,"zero":false},"axis":{"title":"O₃(μg/m³)","values":[40,60,80,100,120]}}}},
{"mark":{"type":"line","color":"#222","strokeWidth":1,"interpolate":"monotone","clip":true},"encoding":{"y":{"field":"s","type":"quantitative","scale":{"domain":[28,133],"nice":false,"zero":false},"axis":{"title":"O₃(μg/m³)","values":[40,60,80,100,120]}}}},
{"mark":{"type":"line","color":"#222","strokeWidth":1,"strokeDash":[3,2],"interpolate":"monotone","clip":true},"encoding":{"y":{"field":"d","type":"quantitative","scale":{"domain":[28,133],"nice":false,"zero":false},"axis":{"title":"O₃(μg/m³)","values":[40,60,80,100,120]}}}}
]},
{"width":204,"height":150,
"data":{"name":"diurnal"},"transform":[{"filter":"datum.c==='JL'&&datum.p==='NO2'"}],
"encoding":{"x":{"field":"h","type":"quantitative","scale":{"domain":[-1,24.25],"nice":false,"zero":false},"axis":{"values":[0,5,10,15,20],"title":null}}},
"layer":[
{"mark":{"type":"area","color":"#00f5f5","opacity":0.7,"interpolate":"monotone","clip":true},"encoding":{"y":{"field":"a","type":"quantitative","scale":{"domain":[4,53],"nice":false,"zero":false},"axis":{"title":"NO₂(μg/m³)","values":[10,20,30,40,50]}},"y2":{"field":"b"}}},
{"mark":{"type":"area","color":"#7f7f7f","opacity":0.5,"interpolate":"monotone","clip":true},"encoding":{"y":{"field":"l","type":"quantitative","scale":{"domain":[4,53],"nice":false,"zero":false},"axis":{"title":"NO₂(μg/m³)","values":[10,20,30,40,50]}},"y2":{"field":"u"}}},
{"transform":[{"fold":["m","s"],"as":["series","val"]}],"mark":{"type":"line","strokeWidth":1.1,"interpolate":"monotone","clip":true},"encoding":{"y":{"field":"val","type":"quantitative","scale":{"domain":[4,53],"nice":false,"zero":false},"axis":{"title":"NO₂(μg/m³)","values":[10,20,30,40,50]}},"color":{"field":"series","type":"nominal","scale":{"domain":["m","s"],"range":["#9ff7f4","#333333"]},"legend":{"orient":"top","title":null,"direction":"horizontal","symbolType":"stroke","symbolSize":500,"symbolStrokeWidth":1.3,"labelExpr":"datum.value==='m'?'CLP':'Last three years'","columnPadding":18,"offset":-1,"padding":0}}}},
{"mark":{"type":"line","color":"#222","strokeWidth":1,"strokeDash":[3,2],"interpolate":"monotone","clip":true},"encoding":{"y":{"field":"d","type":"quantitative","scale":{"domain":[4,53],"nice":false,"zero":false},"axis":{"title":"NO₂(μg/m³)","values":[10,20,30,40,50]}}}}
]},
{"width":204,"height":150,"title":{"text":"Shenzhen","anchor":"start","frame":"group","font":"Open Sans","fontStyle":"italic","fontWeight":"normal","fontSize":14,"color":"#333","offset":-3},
"data":{"name":"diurnal"},"transform":[{"filter":"datum.c==='SZ'&&datum.p==='O3'"}],
"encoding":{"x":{"field":"h","type":"quantitative","scale":{"domain":[-1,24.25],"nice":false,"zero":false},"axis":{"values":[0,5,10,15,20],"title":null}}},
"layer":[
{"mark":{"type":"area","color":"#7ee87e","opacity":0.75,"interpolate":"monotone","clip":true},"encoding":{"y":{"field":"a","type":"quantitative","scale":{"domain":[9,120],"nice":false,"zero":false},"axis":{"title":"O₃(μg/m³)","values":[20,40,60,80,100,120]}},"y2":{"field":"b"}}},
{"mark":{"type":"area","color":"#7f7f7f","opacity":0.5,"interpolate":"monotone","clip":true},"encoding":{"y":{"field":"l","type":"quantitative","scale":{"domain":[9,120],"nice":false,"zero":false},"axis":{"title":"O₃(μg/m³)","values":[20,40,60,80,100,120]}},"y2":{"field":"u"}}},
{"mark":{"type":"line","color":"#d5f5d5","strokeWidth":1.2,"interpolate":"monotone","clip":true},"encoding":{"y":{"field":"m","type":"quantitative","scale":{"domain":[9,120],"nice":false,"zero":false},"axis":{"title":"O₃(μg/m³)","values":[20,40,60,80,100,120]}}}},
{"mark":{"type":"line","color":"#222","strokeWidth":1,"interpolate":"monotone","clip":true},"encoding":{"y":{"field":"s","type":"quantitative","scale":{"domain":[9,120],"nice":false,"zero":false},"axis":{"title":"O₃(μg/m³)","values":[20,40,60,80,100,120]}}}},
{"mark":{"type":"line","color":"#222","strokeWidth":1,"strokeDash":[3,2],"interpolate":"monotone","clip":true},"encoding":{"y":{"field":"d","type":"quantitative","scale":{"domain":[9,120],"nice":false,"zero":false},"axis":{"title":"O₃(μg/m³)","values":[20,40,60,80,100,120]}}}}
]},
{"width":204,"height":150,
"data":{"name":"diurnal"},"transform":[{"filter":"datum.c==='SZ'&&datum.p==='NO2'"}],
"encoding":{"x":{"field":"h","type":"quantitative","scale":{"domain":[-1,24.25],"nice":false,"zero":false},"axis":{"values":[0,5,10,15,20],"title":null}}},
"layer":[
{"mark":{"type":"area","color":"#7ee87e","opacity":0.75,"interpolate":"monotone","clip":true},"encoding":{"y":{"field":"a","type":"quantitative","scale":{"domain":[7.5,44.6],"nice":false,"zero":false},"axis":{"title":"NO₂(μg/m³)","values":[10,20,30,40]}},"y2":{"field":"b"}}},
{"mark":{"type":"area","color":"#7f7f7f","opacity":0.5,"interpolate":"monotone","clip":true},"encoding":{"y":{"field":"l","type":"quantitative","scale":{"domain":[7.5,44.6],"nice":false,"zero":false},"axis":{"title":"NO₂(μg/m³)","values":[10,20,30,40]}},"y2":{"field":"u"}}},
{"transform":[{"fold":["m","s"],"as":["series","val"]}],"mark":{"type":"line","strokeWidth":1.1,"interpolate":"monotone","clip":true},"encoding":{"y":{"field":"val","type":"quantitative","scale":{"domain":[7.5,44.6],"nice":false,"zero":false},"axis":{"title":"NO₂(μg/m³)","values":[10,20,30,40]}},"color":{"field":"series","type":"nominal","scale":{"domain":["m","s"],"range":["#d5f5d5","#333333"]},"legend":{"orient":"top","title":null,"direction":"horizontal","symbolType":"stroke","symbolSize":500,"symbolStrokeWidth":1.3,"labelExpr":"datum.value==='m'?'CLP':'Last three years'","columnPadding":18,"offset":-1,"padding":0}}}},
{"mark":{"type":"line","color":"#222","strokeWidth":1,"strokeDash":[3,2],"interpolate":"monotone","clip":true},"encoding":{"y":{"field":"d","type":"quantitative","scale":{"domain":[7.5,44.6],"nice":false,"zero":false},"axis":{"title":"NO₂(μg/m³)","values":[10,20,30,40]}}}}
]}
]},
{"bounds":"flush","spacing":42,
"resolve":{"scale":{"color":"independent"},"legend":{"color":"independent"}},
"hconcat":[
{"width":204,"height":150,"title":{"text":"Beijing","anchor":"start","frame":"group","font":"Open Sans","fontStyle":"italic","fontWeight":"normal","fontSize":14,"color":"#333","offset":-3},
"data":{"name":"diurnal"},"transform":[{"filter":"datum.c==='BJ'&&datum.p==='O3'"}],
"encoding":{"x":{"field":"h","type":"quantitative","scale":{"domain":[-1,24.25],"nice":false,"zero":false},"axis":{"values":[0,5,10,15,20],"title":null}}},
"layer":[
{"mark":{"type":"area","color":"#ffff00","opacity":0.75,"interpolate":"monotone","clip":true},"encoding":{"y":{"field":"a","type":"quantitative","scale":{"domain":[17,200],"nice":false,"zero":false},"axis":{"title":"O₃(μg/m³)","values":[50,100,150,200]}},"y2":{"field":"b"}}},
{"mark":{"type":"area","color":"#7f7f7f","opacity":0.5,"interpolate":"monotone","clip":true},"encoding":{"y":{"field":"l","type":"quantitative","scale":{"domain":[17,200],"nice":false,"zero":false},"axis":{"title":"O₃(μg/m³)","values":[50,100,150,200]}},"y2":{"field":"u"}}},
{"mark":{"type":"line","color":"#f7f7a0","strokeWidth":1.2,"interpolate":"monotone","clip":true},"encoding":{"y":{"field":"m","type":"quantitative","scale":{"domain":[17,200],"nice":false,"zero":false},"axis":{"title":"O₃(μg/m³)","values":[50,100,150,200]}}}},
{"mark":{"type":"line","color":"#222","strokeWidth":1,"interpolate":"monotone","clip":true},"encoding":{"y":{"field":"s","type":"quantitative","scale":{"domain":[17,200],"nice":false,"zero":false},"axis":{"title":"O₃(μg/m³)","values":[50,100,150,200]}}}},
{"mark":{"type":"line","color":"#222","strokeWidth":1,"strokeDash":[3,2],"interpolate":"monotone","clip":true},"encoding":{"y":{"field":"d","type":"quantitative","scale":{"domain":[17,200],"nice":false,"zero":false},"axis":{"title":"O₃(μg/m³)","values":[50,100,150,200]}}}}
]},
{"width":204,"height":150,
"data":{"name":"diurnal"},"transform":[{"filter":"datum.c==='BJ'&&datum.p==='NO2'"}],
"encoding":{"x":{"field":"h","type":"quantitative","scale":{"domain":[-1,24.25],"nice":false,"zero":false},"axis":{"values":[0,5,10,15,20],"title":null}}},
"layer":[
{"mark":{"type":"area","color":"#ffff00","opacity":0.75,"interpolate":"monotone","clip":true},"encoding":{"y":{"field":"a","type":"quantitative","scale":{"domain":[2.5,49.5],"nice":false,"zero":false},"axis":{"title":"NO₂(μg/m³)","values":[10,20,30,40]}},"y2":{"field":"b"}}},
{"mark":{"type":"area","color":"#7f7f7f","opacity":0.5,"interpolate":"monotone","clip":true},"encoding":{"y":{"field":"l","type":"quantitative","scale":{"domain":[2.5,49.5],"nice":false,"zero":false},"axis":{"title":"NO₂(μg/m³)","values":[10,20,30,40]}},"y2":{"field":"u"}}},
{"transform":[{"fold":["m","s"],"as":["series","val"]}],"mark":{"type":"line","strokeWidth":1.1,"interpolate":"monotone","clip":true},"encoding":{"y":{"field":"val","type":"quantitative","scale":{"domain":[2.5,49.5],"nice":false,"zero":false},"axis":{"title":"NO₂(μg/m³)","values":[10,20,30,40]}},"color":{"field":"series","type":"nominal","scale":{"domain":["m","s"],"range":["#f7f7a0","#333333"]},"legend":{"orient":"top","title":null,"direction":"horizontal","symbolType":"stroke","symbolSize":500,"symbolStrokeWidth":1.3,"labelExpr":"datum.value==='m'?'CLP':'Last three years'","columnPadding":18,"offset":-1,"padding":0}}}},
{"mark":{"type":"line","color":"#222","strokeWidth":1,"strokeDash":[3,2],"interpolate":"monotone","clip":true},"encoding":{"y":{"field":"d","type":"quantitative","scale":{"domain":[2.5,49.5],"nice":false,"zero":false},"axis":{"title":"NO₂(μg/m³)","values":[10,20,30,40]}}}}
]},
{"width":204,"height":150,"title":{"text":"Shanghai","anchor":"start","frame":"group","font":"Open Sans","fontStyle":"italic","fontWeight":"normal","fontSize":14,"color":"#333","offset":-3},
"data":{"name":"diurnal"},"transform":[{"filter":"datum.c==='SH'&&datum.p==='O3'"}],
"encoding":{"x":{"field":"h","type":"quantitative","scale":{"domain":[-1,24.25],"nice":false,"zero":false},"axis":{"values":[0,5,10,15,20],"title":null}}},
"layer":[
{"mark":{"type":"area","color":"#fa8072","opacity":0.8,"interpolate":"monotone","clip":true},"encoding":{"y":{"field":"a","type":"quantitative","scale":{"domain":[27.5,165],"nice":false,"zero":false},"axis":{"title":"O₃(μg/m³)","values":[50,75,100,125,150]}},"y2":{"field":"b"}}},
{"mark":{"type":"area","color":"#7f7f7f","opacity":0.5,"interpolate":"monotone","clip":true},"encoding":{"y":{"field":"l","type":"quantitative","scale":{"domain":[27.5,165],"nice":false,"zero":false},"axis":{"title":"O₃(μg/m³)","values":[50,75,100,125,150]}},"y2":{"field":"u"}}},
{"mark":{"type":"line","color":"#f7aaa2","strokeWidth":1.2,"interpolate":"monotone","clip":true},"encoding":{"y":{"field":"m","type":"quantitative","scale":{"domain":[27.5,165],"nice":false,"zero":false},"axis":{"title":"O₃(μg/m³)","values":[50,75,100,125,150]}}}},
{"mark":{"type":"line","color":"#222","strokeWidth":1,"interpolate":"monotone","clip":true},"encoding":{"y":{"field":"s","type":"quantitative","scale":{"domain":[27.5,165],"nice":false,"zero":false},"axis":{"title":"O₃(μg/m³)","values":[50,75,100,125,150]}}}},
{"mark":{"type":"line","color":"#222","strokeWidth":1,"strokeDash":[3,2],"interpolate":"monotone","clip":true},"encoding":{"y":{"field":"d","type":"quantitative","scale":{"domain":[27.5,165],"nice":false,"zero":false},"axis":{"title":"O₃(μg/m³)","values":[50,75,100,125,150]}}}}
]},
{"width":204,"height":150,
"data":{"name":"diurnal"},"transform":[{"filter":"datum.c==='SH'&&datum.p==='NO2'"}],
"encoding":{"x":{"field":"h","type":"quantitative","scale":{"domain":[-1,24.25],"nice":false,"zero":false},"axis":{"values":[0,5,10,15,20],"title":null}}},
"layer":[
{"mark":{"type":"area","color":"#fa8072","opacity":0.8,"interpolate":"monotone","clip":true},"encoding":{"y":{"field":"a","type":"quantitative","scale":{"domain":[8,58],"nice":false,"zero":false},"axis":{"title":"NO₂(μg/m³)","values":[10,20,30,40,50]}},"y2":{"field":"b"}}},
{"mark":{"type":"area","color":"#7f7f7f","opacity":0.5,"interpolate":"monotone","clip":true},"encoding":{"y":{"field":"l","type":"quantitative","scale":{"domain":[8,58],"nice":false,"zero":false},"axis":{"title":"NO₂(μg/m³)","values":[10,20,30,40,50]}},"y2":{"field":"u"}}},
{"transform":[{"fold":["m","s"],"as":["series","val"]}],"mark":{"type":"line","strokeWidth":1.1,"interpolate":"monotone","clip":true},"encoding":{"y":{"field":"val","type":"quantitative","scale":{"domain":[8,58],"nice":false,"zero":false},"axis":{"title":"NO₂(μg/m³)","values":[10,20,30,40,50]}},"color":{"field":"series","type":"nominal","scale":{"domain":["m","s"],"range":["#f7aaa2","#333333"]},"legend":{"orient":"top","title":null,"direction":"horizontal","symbolType":"stroke","symbolSize":500,"symbolStrokeWidth":1.3,"labelExpr":"datum.value==='m'?'CLP':'Last three years'","columnPadding":18,"offset":-1,"padding":0}}}},
{"mark":{"type":"line","color":"#222","strokeWidth":1,"strokeDash":[3,2],"interpolate":"monotone","clip":true},"encoding":{"y":{"field":"d","type":"quantitative","scale":{"domain":[8,58],"nice":false,"zero":false},"axis":{"title":"NO₂(μg/m³)","values":[10,20,30,40,50]}}}}
]}
]}
]
}
],
"config":{
"view":{"stroke":"#cccccc"},
"axis":{"labelFont":"Liberation Sans","labelFontSize":9,"labelColor":"#444","tickSize":3,"tickColor":"#777","domain":false,"grid":false,"titleFont":"Open Sans","titleFontSize":11,"titleFontStyle":"italic","titleFontWeight":"normal","titleColor":"#333","titlePadding":3,"labelPadding":1},
"legend":{"labelFont":"Open Sans","labelFontStyle":"italic","labelFontSize":12,"labelColor":"#333"}
}
}
